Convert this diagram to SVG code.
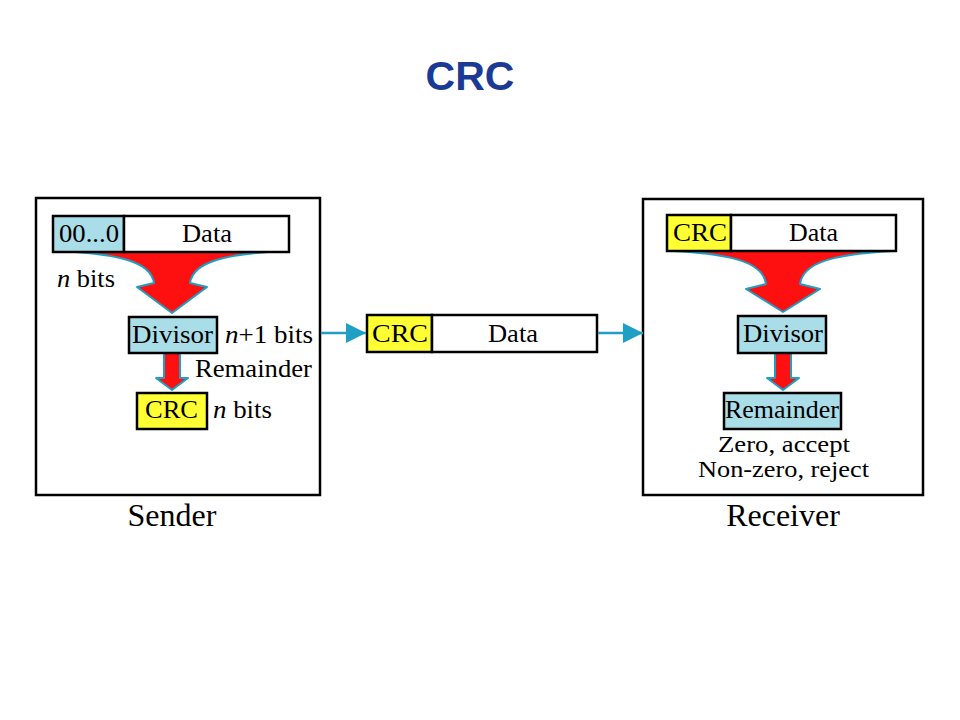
<svg xmlns="http://www.w3.org/2000/svg" width="960" height="720" viewBox="0 0 960 720">
<style>
.frame{fill:#fff;stroke:#000;stroke-width:2.5}
.cell{stroke:#000;stroke-width:2.5}
.blue{fill:#a9dde8}
.yel{fill:#ffff33}
.wht{fill:#fff}
.t{font-family:"Liberation Serif","Times New Roman",serif;font-size:25px;fill:#000}
.s{font-family:"Liberation Serif","Times New Roman",serif;font-size:23px;fill:#000}
.lbl{font-family:"Liberation Serif","Times New Roman",serif;font-size:32px;fill:#000}
.red{fill:#ff1010;stroke:#1f9fc4;stroke-width:2;stroke-linejoin:round}
.conn{stroke:#1f9fc4;stroke-width:2.5;fill:none}
</style>
<defs>
<marker id="ah" viewBox="0 0 10 10" refX="10" refY="5" markerWidth="20" markerHeight="20" markerUnits="userSpaceOnUse" orient="auto">
<path d="M0 0 L10 5 L0 10 Z" fill="#1f9fc4"/>
</marker>
</defs>
<rect width="960" height="720" fill="#fff"/>
<text x="470" y="90" text-anchor="middle" font-family="Liberation Sans,Arial,sans-serif" font-weight="bold" font-size="41" fill="#1a3a96">CRC</text>

<g id="sender">
<rect class="frame" x="36" y="198" width="284" height="297"/>
<path class="red" d="M60 251 L284 251 C224 254 193 262 190 283 L207 287 L172 313 L137 287 L154 283 C151 262 120 254 60 251 Z"/>
<rect class="cell blue" x="53" y="216" width="71" height="36"/>
<rect class="cell wht" x="124" y="216" width="165" height="36"/>
<text class="t" x="59" y="242" textLength="60" lengthAdjust="spacingAndGlyphs">00...0</text>
<text class="t" x="182" y="242" textLength="50" lengthAdjust="spacingAndGlyphs">Data</text>
<text class="t" x="57" y="287" textLength="58" lengthAdjust="spacingAndGlyphs"><tspan font-style="italic">n</tspan> bits</text>
<path class="red" d="M164 353 L180 353 L180 378 L188 378 L172 390 L156 378 L164 378 Z"/>
<rect class="cell blue" x="129" y="317" width="88" height="36"/>
<text class="t" x="132" y="343" textLength="81" lengthAdjust="spacingAndGlyphs">Divisor</text>
<text class="t" x="225" y="343" textLength="88" lengthAdjust="spacingAndGlyphs"><tspan font-style="italic">n</tspan>+1 bits</text>
<text class="t" x="195" y="377" textLength="117" lengthAdjust="spacingAndGlyphs">Remainder</text>
<rect class="cell yel" x="137" y="393" width="70" height="36"/>
<text class="t" x="145" y="418" textLength="53" lengthAdjust="spacingAndGlyphs">CRC</text>
<text class="t" x="213" y="418" textLength="59" lengthAdjust="spacingAndGlyphs"><tspan font-style="italic">n</tspan> bits</text>
<text class="lbl" x="172" y="526" text-anchor="middle">Sender</text>
</g>

<g id="frame-mid">
<rect class="cell yel" x="367" y="315" width="65" height="37"/>
<rect class="cell wht" x="432" y="315" width="165" height="37"/>
<text class="t" x="372" y="342" textLength="56" lengthAdjust="spacingAndGlyphs">CRC</text>
<text class="t" x="488" y="342" textLength="50" lengthAdjust="spacingAndGlyphs">Data</text>
</g>

<g id="receiver">
<rect class="frame" x="643" y="199" width="280" height="296"/>
<path class="red" d="M674 251 L893 251 C835 254 803 262 800 284 L820 289 L783 312 L746 289 L766 284 C763 262 731 254 674 251 Z"/>
<rect class="cell yel" x="667" y="215" width="64" height="36"/>
<rect class="cell wht" x="731" y="215" width="165" height="36"/>
<text class="t" x="673" y="241" textLength="54" lengthAdjust="spacingAndGlyphs">CRC</text>
<text class="t" x="789" y="241" textLength="49" lengthAdjust="spacingAndGlyphs">Data</text>
<path class="red" d="M775 353 L791 353 L791 378 L799 378 L783 390 L767 378 L775 378 Z"/>
<rect class="cell blue" x="738" y="316" width="88" height="37"/>
<text class="t" x="743" y="342" textLength="80" lengthAdjust="spacingAndGlyphs">Divisor</text>
<rect class="cell blue" x="724" y="393" width="117" height="36"/>
<text class="t" x="725" y="418" textLength="114" lengthAdjust="spacingAndGlyphs">Remainder</text>
<text class="s" x="718" y="452" textLength="132" lengthAdjust="spacingAndGlyphs">Zero, accept</text>
<text class="s" x="698" y="477" textLength="171" lengthAdjust="spacingAndGlyphs">Non-zero, reject</text>
<text class="lbl" x="783" y="526" text-anchor="middle">Receiver</text>
</g>

<g id="connectors">
<line class="conn" x1="321" y1="333" x2="366" y2="333" marker-end="url(#ah)"/>
<line class="conn" x1="598" y1="333" x2="643" y2="333" marker-end="url(#ah)"/>
</g>
</svg>
